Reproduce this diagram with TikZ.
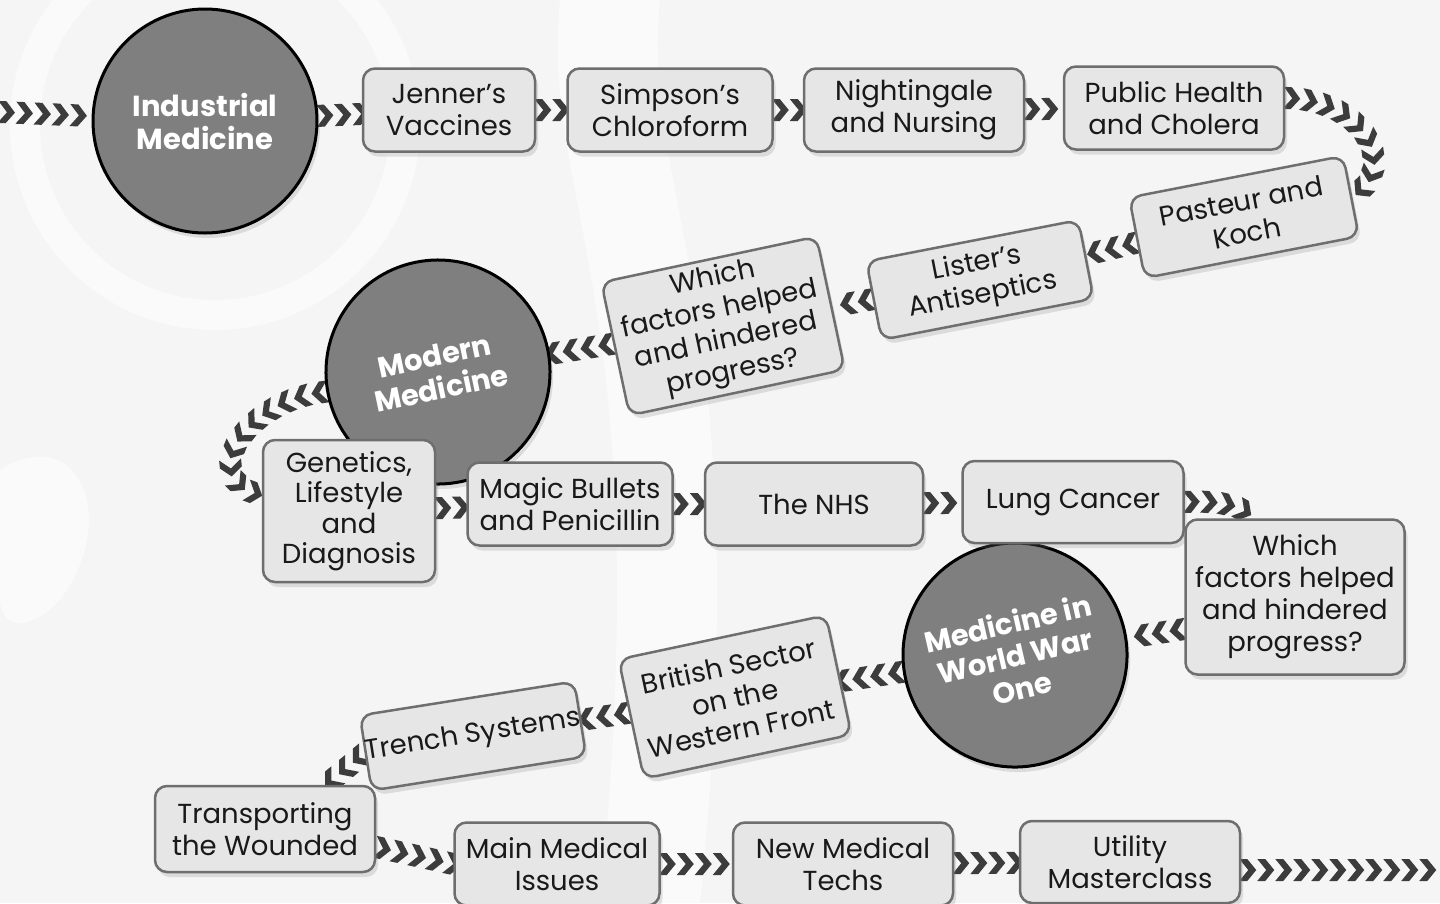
\documentclass[tikz,border=0pt]{standalone}
\usepackage{fontspec}
\setmainfont{Poppins}
\usetikzlibrary{decorations.markings,shadows}
\pgfdeclarelayer{back}
\pgfdeclarelayer{bg}
\pgfsetlayers{back,bg,main}
\definecolor{chevcol}{HTML}{3C3C3C}
\definecolor{boxfill}{HTML}{E6E6E6}
\definecolor{boxline}{HTML}{6E6E6E}
\definecolor{circfill}{HTML}{7F7F7F}
\definecolor{pagebg}{HTML}{F5F5F5}
\definecolor{markcol}{HTML}{FAFAFA}
\tikzset{
  stepbox/.style={draw=boxline, fill=boxfill, line width=2.5pt, rounded corners=12pt,
    inner sep=0pt, align=center, text=black!90,
    font=\fontsize{27.5}{32}\selectfont,
    drop shadow={shadow xshift=3pt, shadow yshift=-5pt, opacity=0.22}},
  era/.style={circle, draw=black, fill=circfill, line width=3pt, minimum size=224pt,
    inner sep=0pt, align=center, text=white,
    font=\fontsize{29}{33}\selectfont\bfseries,
    drop shadow={shadow xshift=3pt, shadow yshift=-5pt, opacity=0.22}},
  chevpath/.style={decorate, decoration={markings,
    mark=between positions 6pt and 1 step 18pt with
      {\fill[chevcol] (-8,-11) -- (0,-11) -- (9,0) -- (0,11) -- (-8,11) -- (1,0) -- cycle;}}}
}
\begin{document}
\begin{tikzpicture}[x=1pt,y=-1pt]
\useasboundingbox (0,0) rectangle (1440,903);
\begin{pgfonlayer}{back}
\fill[pagebg] (0,0) rectangle (1440,903);
% faint watermark shapes
\draw[markcol, line width=30pt] (215,125) circle (190);
\fill[markcol] (560,0) .. controls (540,200) and (660,300) .. (600,903) -- (700,903) .. controls (760,300) and (640,200) .. (660,0) -- cycle;
\fill[markcol] (0,470) .. controls (80,420) and (120,520) .. (60,600) .. controls (20,640) and (0,620) .. (0,600) -- cycle;
\end{pgfonlayer}

% era circles
\node[era] (ind) at (205,121) {Industrial\\Medicine};
\node[era, rotate=12] (mod) at (438,372) {Modern\\Medicine};
\node[era, rotate=13] (ww1) at (1015,655) {Medicine in\\World War\\One};

% steps
\node[stepbox, minimum width=172pt, minimum height=83pt] (jv) at (449,110) {Jenner's\\Vaccines};
\node[stepbox, minimum width=205pt, minimum height=83pt] (sc) at (670,110) {Simpson's\\Chloroform};
\node[stepbox, minimum width=220pt, minimum height=83pt] (nn) at (914,110) {Nightingale\\and Nursing};
\node[stepbox, minimum width=220pt, minimum height=83pt] (ph) at (1174,108) {Public Health\\and Cholera};
\node[stepbox, minimum width=218pt, minimum height=82pt, rotate=11] (pk) at (1244,217) {Pasteur and\\Koch};
\node[stepbox, minimum width=216pt, minimum height=80pt, rotate=11] (li) at (980,280) {Lister's\\Antiseptics};
\node[stepbox, minimum width=220pt, minimum height=136pt, rotate=12] (w1) at (723,326) {Which\\factors helped\\and hindered\\progress?};
\node[stepbox, minimum width=172pt, minimum height=142pt, font=\fontsize{27.5}{30.5}\selectfont] (gen) at (349,511) {Genetics,\\Lifestyle\\and\\Diagnosis};
\node[stepbox, minimum width=205pt, minimum height=83pt] (mb) at (570,504) {Magic Bullets\\and Penicillin};
\node[stepbox, minimum width=218pt, minimum height=83pt] (nhs) at (814,504) {The NHS};
\node[stepbox, minimum width=221pt, minimum height=82pt] (lc) at (1073,502) {Lung Cancer};
\node[stepbox, minimum width=219pt, minimum height=155pt] (w2) at (1295,597) {Which\\factors helped\\and hindered\\progress?};
\node[stepbox, minimum width=212pt, minimum height=122pt, rotate=12] (bs) at (735,697) {British Sector\\on the\\Western Front};
\node[stepbox, minimum width=216pt, minimum height=76pt, rotate=9] (ts) at (473,736) {Trench Systems};
\node[stepbox, minimum width=220pt, minimum height=86pt] (tr) at (265,829) {Transporting\\the Wounded};
\node[stepbox, minimum width=205pt, minimum height=83pt] (mm) at (557,864) {Main Medical\\Issues};
\node[stepbox, minimum width=220pt, minimum height=83pt] (nt) at (843,864) {New Medical\\Techs};
\node[stepbox, minimum width=220pt, minimum height=82pt] (ut) at (1130,862) {Utility\\Masterclass};

\coordinate (lin) at (0,112);
\coordinate (rout) at (1440,870);

\begin{pgfonlayer}{bg}
\path[chevpath] (lin) -- (ind);
\path[chevpath] (ind) -- (jv);
\path[chevpath] (jv) -- (sc);
\path[chevpath] (sc) -- (nn);
\path[chevpath] (nn) -- (ph);
\path[chevpath] ([yshift=10pt]ph.east) .. controls (1368,100) and (1398,170) .. (pk.east);
\path[chevpath] (pk) -- (li);
\path[chevpath] (li) -- (w1);
\path[chevpath] (w1) -- (mod);
\path[chevpath] (mod.178) .. controls (245,400) and (195,480) .. ([yshift=16pt]gen.west);
\path[chevpath] (gen) -- (mb);
\path[chevpath] (mb) -- (nhs);
\path[chevpath] (nhs) -- (lc);
\path[chevpath] (lc.east) .. controls (1225,500) and (1245,508) .. ([xshift=68pt]w2.north west);
\path[chevpath] ([yshift=-32pt]w2.west) -- (ww1);
\path[chevpath] (ww1) -- (bs);
\path[chevpath] (bs) -- (ts);
\path[chevpath] (ts.west) -- ([xshift=-50pt]tr.north east);
\path[chevpath] ([yshift=-18pt]tr.east) -- (mm.west);
\path[chevpath] (mm) -- (nt);
\path[chevpath] (nt) -- (ut);
\path[chevpath] ([yshift=-8pt]ut.east) -- (rout);
\end{pgfonlayer}
\end{tikzpicture}
\end{document}
